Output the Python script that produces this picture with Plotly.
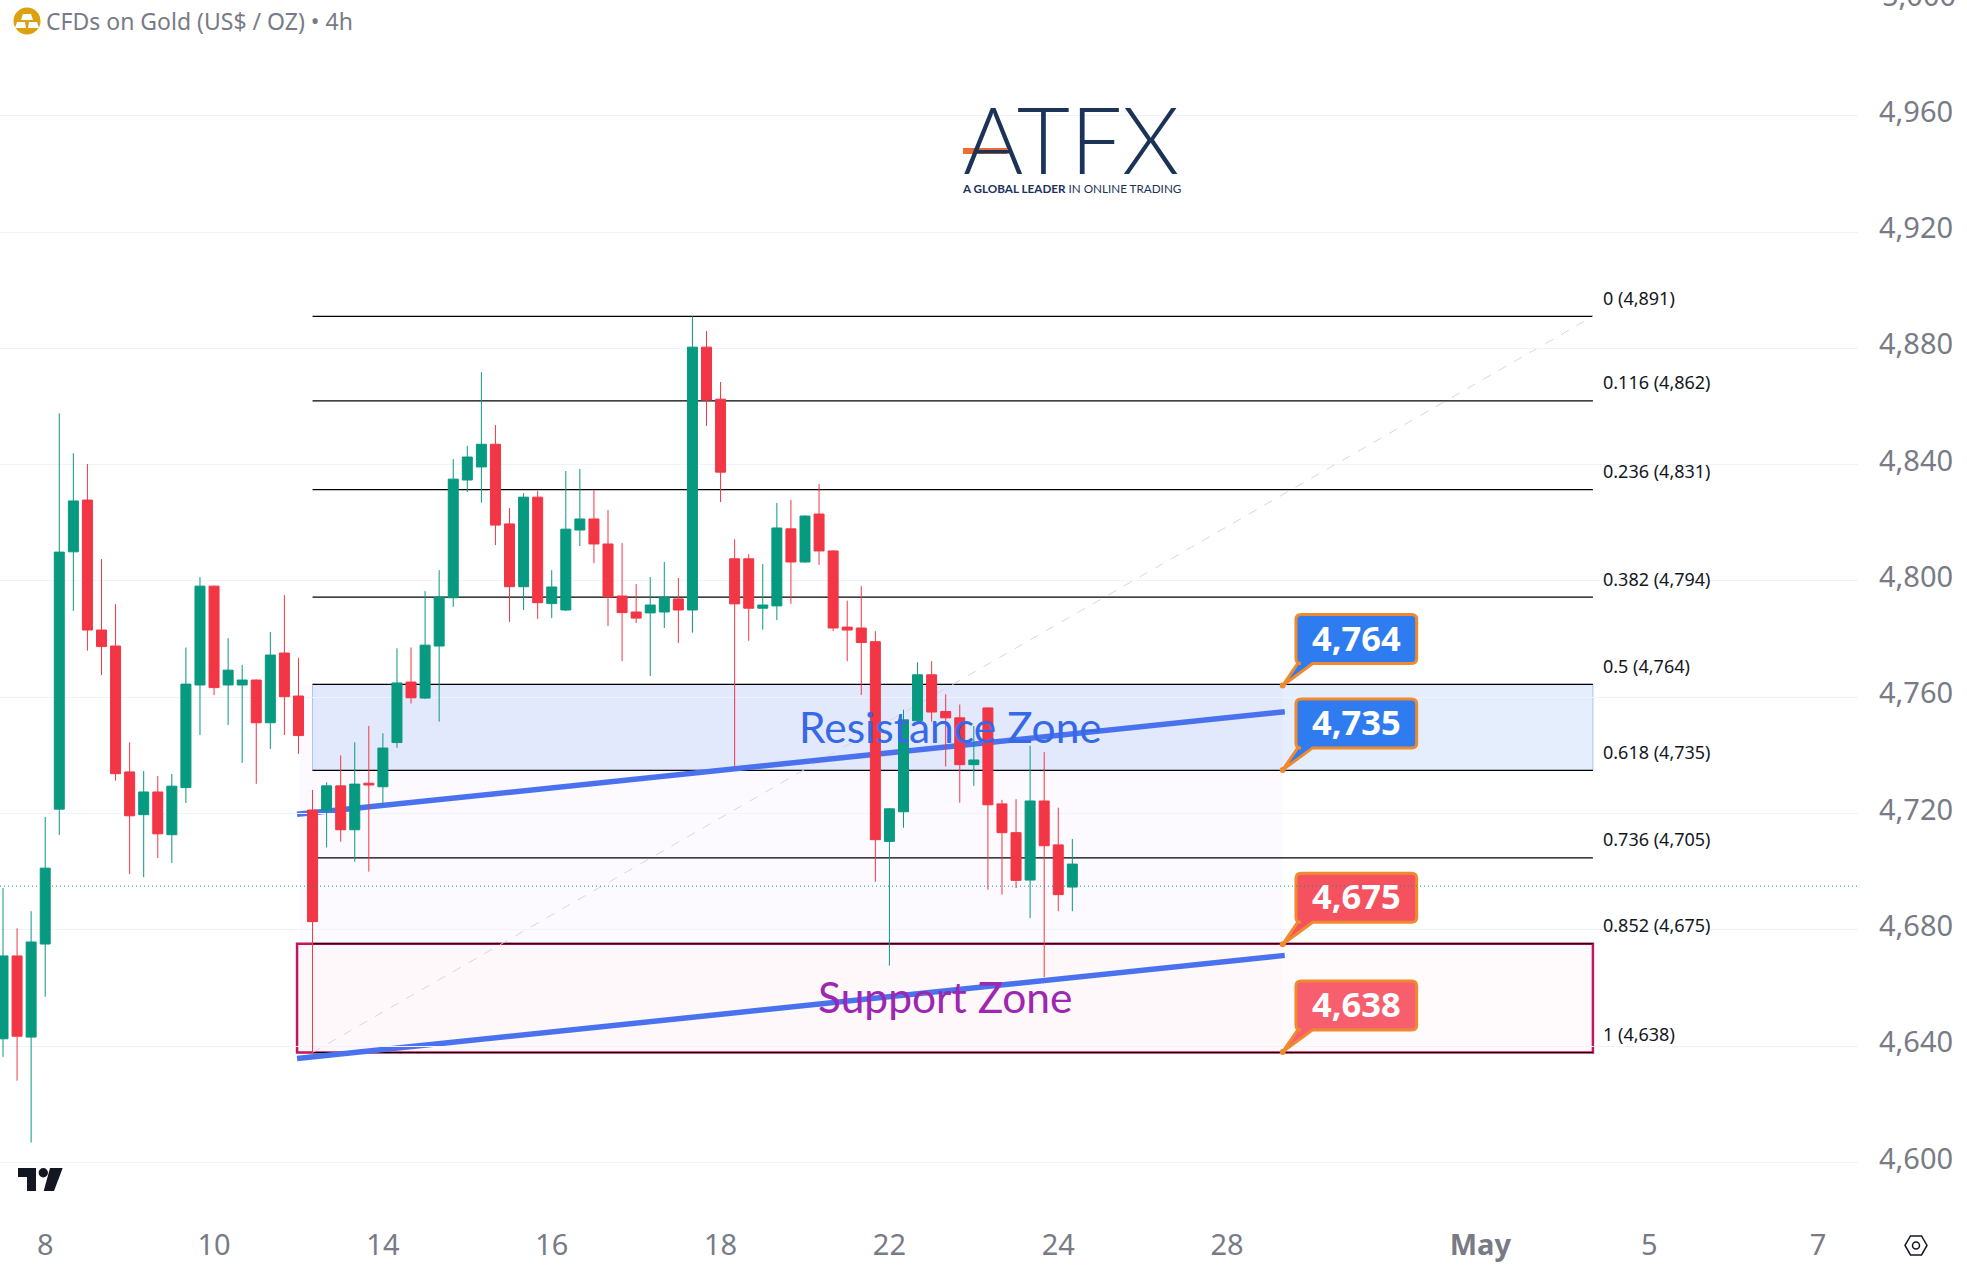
import plotly.graph_objects as go

# 4h candles, index 0 is the leftmost bar
opens = [4642.5, 4671, 4643.1, 4675.1, 4721.5, 4810, 4827.8, 4783.1, 4777.6, 4734.3,
         4719.6, 4727.4, 4712.7, 4728.9, 4764.2, 4798.2, 4764.2, 4764.2, 4765.9, 4751.2,
         4775.2, 4760.4, 4721.2, 4721, 4729.5, 4714.4, 4730.4, 4729.2, 4744.4, 4765.2,
         4759.7, 4777.6, 4794.2, 4834.7, 4839.2, 4847, 4819.6, 4798, 4828.8, 4792.2,
         4790, 4817.5, 4821.3, 4812.7, 4794.8, 4789.3, 4789, 4789.3, 4793.8, 4790,
         4880.4, 4862.5, 4807.6, 4807.6, 4790.6, 4791.4, 4817.9, 4806.5, 4823, 4810.3,
         4784.1, 4783.8, 4779.1, 4710.4, 4720.6, 4751.9, 4767.7, 4755.1, 4752.9, 4736.8,
         4756.3, 4723.3, 4713.4, 4697.1, 4724.3, 4709.2, 4694.7]
highs = [4694.4, 4680.5, 4686.4, 4718.8, 4857.6, 4843.9, 4840.2, 4807.5, 4792, 4744.5,
         4734.6, 4732.9, 4733.6, 4777.1, 4801.3, 4798.4, 4780.3, 4771.1, 4766.1, 4782.4,
         4795.1, 4773.5, 4728.1, 4730.7, 4740, 4744.5, 4750.1, 4747.6, 4776.8, 4777.1,
         4796.5, 4803.7, 4841.9, 4846.4, 4871.8, 4853.6, 4825, 4830.2, 4830.9, 4803.7,
         4837.8, 4838.5, 4831.3, 4824.4, 4813, 4798.9, 4801.3, 4806.5, 4801, 4891,
         4885.9, 4868.4, 4814.3, 4809.2, 4805.8, 4826.8, 4827.8, 4822.6, 4833.3, 4810.5,
         4793.2, 4798.2, 4782.7, 4721.8, 4755.7, 4772, 4772.4, 4761, 4757.5, 4750.1,
         4756.5, 4724.7, 4724.9, 4743.3, 4741.1, 4722, 4711.2]
lows = [4636.3, 4628.1, 4606.8, 4657, 4712.6, 4789.7, 4776, 4767.6, 4731.3, 4699.2,
        4698.1, 4704.7, 4703, 4723.6, 4747, 4760.7, 4750.4, 4737.4, 4730.2, 4742.2,
        4747, 4740.5, 4638, 4708.3, 4710.3, 4703.4, 4700, 4722.7, 4742.6, 4757.8,
        4759.4, 4751.6, 4791.1, 4830.6, 4826.9, 4812.3, 4785.9, 4790, 4786.9, 4787.2,
        4789.6, 4812, 4806.1, 4784.5, 4772.4, 4785.5, 4767.3, 4783.8, 4778.6, 4782.2,
        4853.3, 4827.1, 4736.2, 4779.4, 4783.2, 4786.5, 4792.1, 4806.3, 4805.5, 4782.7,
        4772.4, 4760.8, 4696.5, 4667.7, 4715.1, 4751.6, 4751.6, 4736.2, 4723.7, 4729.5,
        4693.8, 4692.1, 4694.4, 4684, 4663.7, 4686.4, 4686.4]
closes = [4671, 4643.4, 4675.8, 4701.2, 4809.9, 4827.5, 4783.1, 4777.4, 4733.7, 4719.2,
          4727.4, 4713, 4729.4, 4764.5, 4798.2, 4763.3, 4769.3, 4765.9, 4751.2, 4774.5,
          4760.2, 4746.8, 4682.8, 4729.5, 4714.4, 4730.1, 4729.8, 4742.5, 4764.9, 4759.8,
          4777.9, 4794.4, 4835, 4842.6, 4847, 4819.2, 4798, 4828.8, 4792.5, 4797.9,
          4817.8, 4821.3, 4812.7, 4794.5, 4789.1, 4787.2, 4791.7, 4794.4, 4790, 4880.4,
          4862.2, 4837.4, 4792.1, 4790.6, 4791.7, 4818.2, 4806.5, 4822.3, 4810.3, 4783.8,
          4783.1, 4778.8, 4711, 4721.6, 4752.2, 4767.7, 4754.9, 4752.9, 4736.8, 4738.4,
          4723, 4713.4, 4697, 4724.3, 4708.9, 4692.1, 4702.6]

price_ticks = [4600, 4640, 4680, 4720, 4760, 4800, 4840, 4880, 4920, 4960]
time_tick_bars = [3, 15, 27, 39, 51, 63, 75, 87, 105, 117, 129]
time_tick_labels = ["8", "10", "14", "16", "18", "22", "24", "28", "<b>May</b>", "5", "7"]

fib_prices = [4891, 4861.9, 4831.4, 4794.4, 4764.4, 4734.8, 4704.7, 4675.2, 4637.8]
fib_labels = ["0 (4,891)", "0.116 (4,862)", "0.236 (4,831)", "0.382 (4,794)", "0.5 (4,764)",
              "0.618 (4,735)", "0.736 (4,705)", "0.852 (4,675)", "1 (4,638)"]

callout_prices = [4764, 4735, 4675, 4638]
callout_colors = ["#2f7bf0", "#2f7bf0", "#f5515f", "#f75e6e"]

last_price = 4695
upper_trend = [4719.7, 4755]
lower_trend = [4635.7, 4671.2]

W, H = 1967, 1269
PLOT_R, PLOT_B = 1858, 1215
FONT = "Noto Sans"
GREY = "#787b86"
NAVY = "#1b3356"
ORANGE = "#f08a2e"

# bar index of the drawings
FIB_X0, FIB_X1 = 22, 113.0
TREND_X0, TREND_X1 = 20.9, 91.1
TIP_X = 90.95


def px(x):
    return x / PLOT_R


def py(y):
    return 1 - y / PLOT_B


def paper_path(points):
    return "M " + " L ".join(f"{px(x):.5f},{py(y):.5f}" for x, y in points) + " Z"


def callout_path():
    # pixels from the tip, y goes up
    l, r, t, b, c = 13.3, 134, 71, 22, 5
    return (f"M 0,0 L 15,{b} L {l + c},{b} Q {l},{b} {l},{b + c} L {l},{t - c} Q {l},{t} {l + c},{t} "
            f"L {r - c},{t} Q {r},{t} {r},{t - c} L {r},{b + c} Q {r},{b} {r - c},{b} L 30,{b} Z")


def paper_text(x, y, text, size, color, family=FONT, xanchor="center"):
    fig.add_annotation(xref="paper", yref="paper", x=px(x), y=py(y), text=text, showarrow=False,
                       xanchor=xanchor, yanchor="middle", font=dict(family=family, size=size, color=color))


bars = list(range(len(closes)))

fig = go.Figure(go.Candlestick(
    x=bars, open=opens, high=highs, low=lows, close=closes,
    increasing=dict(line=dict(color="#089981", width=1), fillcolor="#089981"),
    decreasing=dict(line=dict(color="#f23645", width=1), fillcolor="#f23645"),
    whiskerwidth=0, hoverinfo="skip",
))

# zones and drawings under the candles
fig.add_shape(type="rect", x0=21.1, x1=TIP_X, y0=fib_prices[7], y1=fib_prices[4], layer="below",
              line_width=0, fillcolor="rgba(150,80,220,0.028)")
fig.add_shape(type="rect", x0=FIB_X0, x1=FIB_X1, y0=fib_prices[5], y1=fib_prices[4], layer="below",
              line=dict(color="#a9c4f2", width=1), fillcolor="rgba(19,100,237,0.11)")
fig.add_shape(type="rect", x0=20.9, x1=TIP_X, y0=fib_prices[-1], y1=fib_prices[7], layer="below",
              line_width=0, fillcolor="rgba(233,30,99,0.012)")
fig.add_shape(type="rect", x0=20.9, x1=FIB_X1, y0=fib_prices[-1], y1=fib_prices[7], layer="below",
              line=dict(color="#c2185b", width=2.5), fillcolor="rgba(233,30,99,0.02)")
for p in fib_prices:
    fig.add_shape(type="line", x0=FIB_X0, x1=FIB_X1, y0=p, y1=p, layer="below",
                  line=dict(color="#000000", width=1.2))
fig.add_shape(type="line", x0=FIB_X0, x1=FIB_X1, y0=fib_prices[-1], y1=fib_prices[0], layer="below",
              line=dict(color="#d6d8de", width=1, dash="dash"))
for ends in (upper_trend, lower_trend):
    fig.add_shape(type="line", x0=TREND_X0, x1=TREND_X1, y0=ends[0], y1=ends[1], layer="below",
                  line=dict(color="#4a72ee", width=5.5))

for p, label in zip(fib_prices, fib_labels):
    fig.add_annotation(x=FIB_X1, y=p, text=label, showarrow=False, xanchor="left", yanchor="middle",
                       xshift=8, yshift=18.5, font=dict(family=FONT, size=18, color="#131722"))

# price callouts
for p, color in zip(callout_prices, callout_colors):
    fig.add_shape(type="path", xsizemode="pixel", ysizemode="pixel", xanchor=TIP_X, yanchor=p,
                  xref="x", yref="y", path=callout_path(), fillcolor=color,
                  line=dict(color=ORANGE, width=3), layer="above")
    fig.add_shape(type="circle", xsizemode="pixel", ysizemode="pixel", xanchor=TIP_X, yanchor=p,
                  xref="x", yref="y", x0=-3, x1=3, y0=-3, y1=3, fillcolor=ORANGE, line_width=0, layer="above")
    fig.add_annotation(x=TIP_X, y=p, text=f"<b>{p:,}</b>", showarrow=False, xshift=73.6, yshift=48.5,
                       yanchor="middle", font=dict(family=FONT, size=34.5, color="white"))

fig.add_shape(type="line", xref="paper", x0=0, x1=1, y0=last_price, y1=last_price, layer="above",
              line=dict(color="#089981", width=1, dash="1px,3px"))

paper_text(951, 726, "Resistance Zone", 42.5, "#3668e8", "Lato")
paper_text(945, 997, "Support Zone", 42.5, "#9c27b0", "Lato")

# header
fig.add_shape(type="circle", xref="paper", yref="paper", x0=px(13.5), x1=px(40.5), y0=py(34.5), y1=py(7.5),
              fillcolor="#dba10e", line_width=0)
for bar in ([(23, 14), (31, 14), (33, 20), (21, 20)],
            [(17, 22), (25, 22), (26, 28), (15, 28)],
            [(29, 22), (37, 22), (39, 28), (28, 28)]):
    fig.add_shape(type="path", xref="paper", yref="paper", path=paper_path(bar), fillcolor="white", line_width=0)
paper_text(44, 21, "CFDs on Gold (US$ / OZ) • 4h", 23, GREY, xanchor="left")

# broker logo
paper_text(1071, 138.5, "ATFX", 92, NAVY, "Lato Light, Lato")
fig.add_shape(type="line", xref="paper", yref="paper", x0=px(963), x1=px(1007), y0=py(151), y1=py(151),
              line=dict(color="#ee6c2e", width=6))
paper_text(1071, 188, "<b>A GLOBAL LEADER</b> IN ONLINE TRADING", 11.7, NAVY, "Lato")

# TradingView mark
fig.add_shape(type="path", xref="paper", yref="paper", fillcolor="#131722", line_width=0,
              path=paper_path([(18, 1168), (36, 1168), (36, 1191), (27, 1191), (27, 1177), (18, 1177)]))
fig.add_shape(type="circle", xref="paper", yref="paper", x0=px(38.6), x1=px(48), y0=py(1177.4), y1=py(1168),
              fillcolor="#131722", line_width=0)
fig.add_shape(type="path", xref="paper", yref="paper", fillcolor="#131722", line_width=0,
              path=paper_path([(50, 1168), (62.7, 1168), (54, 1191), (43.7, 1191)]))

# axis settings button
fig.add_shape(type="path", xref="paper", yref="paper", fillcolor="white", line=dict(color="#131722", width=1.5),
              path=paper_path([(1905, 1245.5), (1910.5, 1236), (1921.5, 1236), (1927, 1245.5), (1921.5, 1255), (1910.5, 1255)]))
fig.add_shape(type="circle", xref="paper", yref="paper", x0=px(1912.5), x1=px(1919.5), y0=py(1249), y1=py(1242),
              fillcolor="white", line=dict(color="#131722", width=1.5))

# top tick is cut by the page edge, so it cannot be a normal tick
paper_text(1880, -6, "5,000", 29, GREY, xanchor="left")

fig.update_layout(
    width=W, height=H, autosize=False,
    margin=dict(l=0, r=W - PLOT_R, t=0, b=H - PLOT_B, pad=0),
    paper_bgcolor="white", plot_bgcolor="white",
    showlegend=False, hovermode=False, dragmode=False,
    boxgap=0.29, boxgroupgap=0,
    font=dict(family=FONT),
    xaxis=dict(range=[-0.2132, 131.84], rangeslider_visible=False, showgrid=False, zeroline=False,
               showline=False, ticks="", tickmode="array", tickvals=time_tick_bars, ticktext=time_tick_labels,
               tickfont=dict(family=FONT, size=29, color=GREY), ticklabelstandoff=10),
    yaxis=dict(range=[4581.9, 4999.8], side="right", showgrid=True, gridcolor="#f0f3fa", gridwidth=1,
               zeroline=False, showline=False, ticks="", tickmode="array", tickvals=price_ticks,
               ticktext=[f"{p:,}" for p in price_ticks], ticklabelshift=-4,
               tickfont=dict(family=FONT, size=29, color=GREY), ticklabelstandoff=20),
)

fig.write_html("out.html", config=dict(displayModeBar=False),
               post_script="document.body.style.margin='0';document.body.style.overflow='hidden';")
